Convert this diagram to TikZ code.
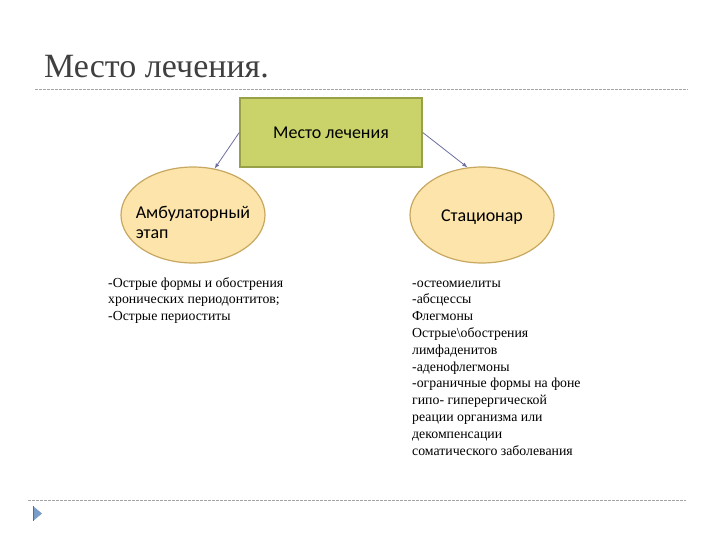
\documentclass[tikz,border=0pt]{standalone}
\usepackage{fontspec}
\setmainfont{Liberation Serif}
\newfontfamily\boxfont{Carlito}
\usetikzlibrary{shapes.geometric}
\definecolor{boxfill}{RGB}{201,211,106}
\definecolor{boxline}{RGB}{152,160,72}
\definecolor{ovalfill}{RGB}{252,228,170}
\definecolor{ovalline}{RGB}{200,168,96}
\definecolor{linkcol}{RGB}{108,110,160}
\definecolor{rulecol}{RGB}{165,165,165}
\definecolor{titlecol}{RGB}{64,64,64}
\definecolor{markcol}{RGB}{122,156,200}
\begin{document}
\begin{tikzpicture}[
  x=1pt, y=-1pt,
  box/.style={draw=boxline, fill=boxfill, line width=1.5pt, minimum width=182pt,
    minimum height=69pt, font=\boxfont\fontsize{18}{21}\selectfont},
  oval/.style={ellipse, draw=ovalline, fill=ovalfill, line width=1.2pt, minimum width=144pt,
    minimum height=96pt, inner sep=0pt},
  ovaltext/.style={align=left, inner sep=0pt, font=\boxfont\fontsize{18}{20}\selectfont},
  link/.style={draw=linkcol, -latex, line width=0.8pt},
  list/.style={anchor=north west, align=left, inner sep=0pt, font=\fontsize{13.8}{16.8}\selectfont},
  sep/.style={draw=rulecol, line width=1pt, dash pattern=on 3pt off 1pt},
]
\useasboundingbox[fill=white] (0,0) rectangle (720,540);

% ---------------- heading ----------------
\node[anchor=base west, inner sep=0pt, text=titlecol, font=\fontsize{34}{40}\selectfont]
  (title) at (44,78) {Место лечения.};
\draw[sep] (35,90) -- (688,90);

% ---------------- the tree ----------------
\node[box]  (place) at (331,132.5) {Место лечения};
\node[oval] (amb)   at (193,215) {};
\node[oval] (stat)  at (482,215) {};
\node[ovaltext] (amblbl)  at (193,222) {Амбулаторный\\этап};
\node[ovaltext] (statlbl) at (482,217) {Стационар};

\draw[link] (place.west) -- (amb.65);
\draw[link] (place.east) -- (stat.107);

% ---------------- lists ----------------
\node[list] (amblist) at (108,275.2)
  {\strut-Острые формы и обострения\\
   хронических периодонтитов;\\
   -Острые периоститы};
\node[list] (statlist) at (412,275.2)
  {\strut-остеомиелиты\\
   -абсцессы\\
   Флегмоны\\
   Острые\textbackslash обострения\\
   лимфаденитов\\
   -аденофлегмоны\\
   -ограничные формы на фоне\\
   гипо- гиперергической\\
   реации организма или\\
   декомпенсации\\
   соматического заболевания};

% ---------------- footer ----------------
\draw[sep] (28,500) -- (686,500);
\fill[markcol] (33,506) -- (42,513.5) -- (33,521) -- cycle;
\draw[markcol!70!black, line width=0.8pt] (33,506) -- (33,521);

\end{tikzpicture}
\end{document}
